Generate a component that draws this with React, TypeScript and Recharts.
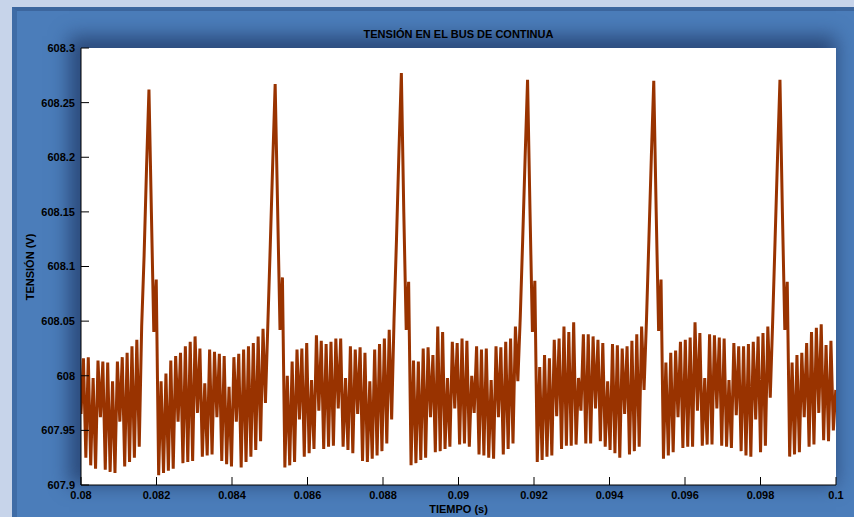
import { CartesianGrid, Line, LineChart, XAxis, YAxis } from 'recharts'

// Muestreo uniforme de la tensión del bus (s).
const T0 = 0.08
const DT = 0.00006429

// Tramo antes del primer pico.
const tramoInicial = [
  607.965, 608.016, 607.925, 608.017, 607.918, 607.998, 607.915, 608.014, 607.962, 608.013,
  607.914, 608.012, 607.912, 607.995, 607.911, 608.013, 607.958, 608.017, 607.917, 608.021,
  607.921, 608.027, 607.925, 608.033, 607.935, 608.045, 608.11, 608.19, 608.262,
]

// Cada ciclo de rizado (300 Hz) termina en su pico.
const ciclo1 = [
  608.15, 608.04, 608.088, 607.909, 607.995, 607.911, 608.002, 607.913, 608.014, 607.915,
  608.018, 607.958, 608.021, 607.92, 608.027, 607.921, 608.031, 607.922, 608.036, 607.966,
  608.025, 607.926, 607.993, 607.927, 608.024, 607.928, 608.022, 607.962, 608.02, 607.922,
  608.018, 607.919, 607.99, 607.917, 608.017, 607.958, 608.02, 607.916, 608.024, 607.921,
  608.027, 607.926, 608.03, 607.932, 608.036, 607.94, 608.043, 607.975, 608.048, 608.12,
  608.195, 608.267,
]

const ciclo2 = [
  608.155, 608.042, 608.09, 607.916, 608.0, 607.918, 608.013, 607.921, 608.024, 607.96,
  608.025, 607.926, 608.03, 607.929, 607.996, 607.933, 608.037, 607.968, 608.032, 607.933,
  608.029, 607.935, 608.031, 607.936, 608.034, 607.97, 608.034, 607.935, 607.998, 607.932,
  608.027, 607.929, 608.024, 607.965, 608.026, 607.922, 608.021, 607.921, 607.995, 607.924,
  608.024, 607.927, 608.029, 607.931, 608.034, 607.938, 608.042, 607.96, 608.053, 608.125,
  608.205, 608.277,
]

const ciclo3 = [
  608.15, 608.042, 608.086, 607.918, 608.014, 607.92, 608.013, 607.923, 608.025, 607.925,
  608.026, 607.962, 608.019, 607.93, 608.045, 607.931, 608.04, 607.933, 607.998, 607.935,
  608.031, 607.97, 608.03, 607.937, 608.034, 607.938, 608.032, 607.935, 608.0, 607.966,
  608.027, 607.928, 608.024, 607.927, 608.025, 607.925, 607.996, 607.924, 608.027, 607.962,
  608.026, 607.928, 608.031, 607.933, 608.034, 607.938, 608.045, 607.995, 608.054, 608.125,
  608.2, 608.271,
]

const ciclo4 = [
  608.152, 608.04, 608.087, 607.921, 608.008, 607.923, 608.019, 607.926, 608.016, 607.927,
  608.033, 607.963, 608.034, 607.933, 608.045, 607.936, 608.04, 607.936, 608.049, 607.937,
  607.998, 607.968, 608.038, 607.938, 608.038, 607.938, 608.036, 607.97, 608.033, 607.94,
  608.03, 607.935, 607.995, 607.932, 608.029, 607.929, 608.028, 607.925, 608.025, 607.965,
  608.027, 607.928, 608.032, 607.931, 608.038, 607.935, 608.045, 607.987, 608.051, 608.125,
  608.2, 608.27,
]

const ciclo5 = [
  608.15, 608.041, 608.088, 607.924, 608.012, 607.927, 608.021, 607.93, 608.023, 607.962,
  608.031, 607.934, 608.033, 607.935, 608.035, 607.935, 608.049, 607.968, 608.039, 607.936,
  607.998, 607.937, 608.038, 607.937, 608.037, 607.97, 608.035, 607.936, 608.034, 607.935,
  607.996, 607.934, 608.03, 607.964, 608.027, 607.931, 608.027, 607.927, 608.029, 607.926,
  608.031, 607.96, 608.036, 607.93, 608.039, 607.936, 608.045, 607.98, 608.05, 608.125,
  608.2, 608.271,
]

// Tramo tras el último pico.
const tramoFinal = [
  608.15, 608.042, 608.086, 607.926, 608.012, 607.928, 608.019, 607.93, 608.021, 607.962,
  608.03, 607.935, 608.04, 607.937, 608.044, 607.966, 608.047, 607.941, 608.028, 607.94,
  608.032, 607.95, 607.987,
]

const ticksTiempo = [0.08, 0.082, 0.084, 0.086, 0.088, 0.09, 0.092, 0.094, 0.096, 0.098, 0.1]
const ticksTension = [607.9, 607.95, 608, 608.05, 608.1, 608.15, 608.2, 608.25, 608.3]

const muestras = [...tramoInicial, ...ciclo1, ...ciclo2, ...ciclo3, ...ciclo4, ...ciclo5, ...tramoFinal]
const data = muestras.map((v, i) => ({ t: T0 + i * DT, v }))

const FONT = '"Liberation Sans", Arial, sans-serif'
const tickStyle = { fontSize: 11, fontWeight: 'bold', fill: '#000', fontFamily: FONT }
const noLabel = () => <g />

export default function App() {
  return (
    <div style={{ position: 'absolute', left: 0, top: 0, width: 854, height: 517, background: '#c7d4ea', overflow: 'hidden', fontFamily: FONT }}>
      {/* panel azul de la figura */}
      <div style={{ position: 'absolute', left: 12, top: 7, width: 860, height: 520, background: '#4b7dba', borderTop: '4px solid #3c669e', borderLeft: '5px solid #3f6ca6' }} />
      {/* sombra del área de ejes */}
      <div style={{ position: 'absolute', left: 81, top: 48, width: 755, height: 437, background: '#fff', boxShadow: '-6px -6px 18px 6px rgba(22,40,80,0.6)' }} />

      <div style={{ position: 'absolute', left: 0, top: 28, width: 917, textAlign: 'center', fontSize: 11, fontWeight: 'bold' }}>
        TENSIÓN EN EL BUS DE CONTINUA
      </div>
      <div style={{ position: 'absolute', left: 0, top: 503, width: 917, textAlign: 'center', fontSize: 11, fontWeight: 'bold' }}>
        TIEMPO (s)
      </div>
      <div style={{ position: 'absolute', left: 30, top: 267, transform: 'translate(-50%, -50%) rotate(-90deg)', fontSize: 11, fontWeight: 'bold', whiteSpace: 'nowrap' }}>
        TENSIÓN (V)
      </div>

      <div style={{ position: 'absolute', left: 0, top: 0 }}>
        <LineChart width={854} height={517} data={data} margin={{ top: 48, right: 18, bottom: 2, left: 21 }}>
          <CartesianGrid stroke="none" />
          <XAxis
            dataKey="t"
            type="number"
            domain={[0.08, 0.1]}
            ticks={ticksTiempo}
            allowDataOverflow
            height={30}
            tickSize={-8}
            tickMargin={14}
            tick={tickStyle}
            stroke="#000"
            interval={0}
          />
          <XAxis
            xAxisId="top"
            orientation="top"
            dataKey="t"
            type="number"
            domain={[0.08, 0.1]}
            ticks={ticksTiempo}
            allowDataOverflow
            height={0}
            tickSize={-8}
            tick={noLabel}
            stroke="#000"
            interval={0}
          />
          <YAxis
            type="number"
            domain={[607.9, 608.3]}
            ticks={ticksTension}
            allowDataOverflow
            width={60}
            tickSize={-8}
            tickMargin={14}
            tick={tickStyle}
            stroke="#000"
            interval={0}
          />
          <YAxis
            yAxisId="right"
            orientation="right"
            type="number"
            domain={[607.9, 608.3]}
            ticks={ticksTension}
            allowDataOverflow
            width={0}
            tickSize={-8}
            tick={noLabel}
            stroke="#000"
            interval={0}
          />
          <Line
            type="linear"
            dataKey="v"
            stroke="#993300"
            strokeWidth={3}
            dot={false}
            isAnimationActive={false}
          />
        </LineChart>
      </div>
    </div>
  )
}
